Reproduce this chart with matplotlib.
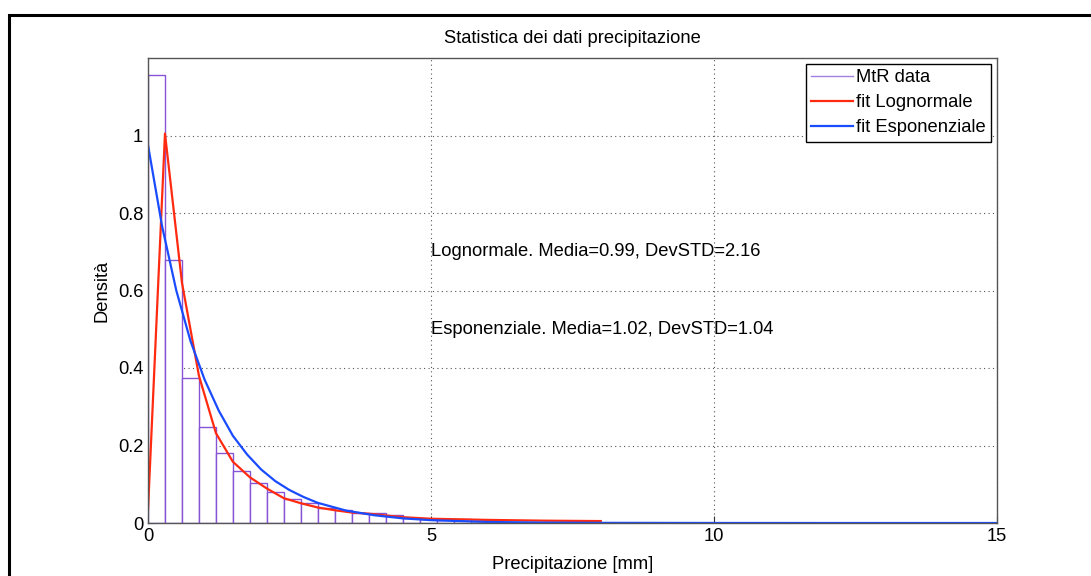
import matplotlib.pyplot as plt
import matplotlib.patches as patches
from matplotlib.lines import Line2D
import numpy as np

plt.rcParams['font.family'] = ['Liberation Sans', 'DejaVu Sans']

# histogram (bin width 0.3 mm), density values
bin_edges = np.arange(0, 6.01, 0.3)
hist_density = [1.155, 0.68, 0.373, 0.248, 0.180, 0.133, 0.102, 0.081, 0.061, 0.051,
                0.040, 0.033, 0.027, 0.025, 0.021, 0.014, 0.010, 0.008, 0.010, 0.006]

# fitted lognormal curve (sampled at the bin edges)
logn_x = [0.0, 0.3, 0.6, 0.9, 1.2, 1.5, 1.8, 2.1, 2.4, 2.7, 3.0, 3.3, 3.6, 3.9,
          4.5, 5.0, 6.0, 7.0, 8.0]
logn_y = [0.034, 1.005, 0.62, 0.38, 0.232, 0.158, 0.118, 0.089, 0.064, 0.051,
          0.040, 0.033, 0.027, 0.024, 0.015, 0.011, 0.008, 0.006, 0.005]

# fitted exponential curve
expo_x = [0.0, 0.25, 0.5, 0.75, 1.0, 1.25, 1.5, 1.75, 2.0, 2.25, 2.5, 2.75, 3.0,
          3.5, 4.0, 4.5, 5.0, 6.0, 7.0, 8.0, 10.0, 12.0, 15.0]
expo_y = [0.975, 0.765, 0.600, 0.470, 0.370, 0.290, 0.225, 0.177, 0.138, 0.108,
          0.085, 0.067, 0.052, 0.032, 0.020, 0.012, 0.0073, 0.0027, 0.0010,
          0.0004, 0.0001, 0.0, 0.0]

stats_text = ['Lognormale. Media=0.99, DevSTD=2.16',
              'Esponenziale. Media=1.02, DevSTD=1.04']

fs = 13.2
c_hist = '#8654d4'
c_logn = '#ff2a10'
c_expo = '#1a4cff'

fig = plt.figure(figsize=(10.91, 5.76), dpi=100)
ax = fig.add_axes([148 / 1091, 53 / 576, 849 / 1091, 465 / 576])

widths = np.diff(bin_edges)
ax.bar(bin_edges[:-1], hist_density, width=widths, align='edge',
       facecolor='white', edgecolor=c_hist, linewidth=1.0)
ax.plot(logn_x, logn_y, color=c_logn, lw=1.6)
ax.plot(expo_x, expo_y, color=c_expo, lw=1.6)

ax.text(5, 0.70, stats_text[0], fontsize=fs, va='center', ha='left')
ax.text(5, 0.50, stats_text[1], fontsize=fs, va='center', ha='left')

ax.set_xlim(0, 15)
ax.set_ylim(0, 1.2)
ax.set_xticks([0, 5, 10, 15])
ax.set_yticks([0, 0.2, 0.4, 0.6, 0.8, 1.0])
ax.set_yticklabels(['0', '0.2', '0.4', '0.6', '0.8', '1'])
ax.tick_params(direction='in', labelsize=fs, length=5, width=0.8, colors='#333333',
               labelcolor='black')
ax.grid(True, linestyle=(0, (1, 3)), color='#555555', linewidth=0.8)
ax.set_axisbelow(True)
for sp in ax.spines.values():
    sp.set_color('#555555')
    sp.set_linewidth(1.0)

ax.set_title('Statistica dei dati precipitazione', fontsize=fs, pad=11)
ax.set_xlabel('Precipitazione [mm]', fontsize=fs, labelpad=8)
ax.set_ylabel('Densità', fontsize=fs, labelpad=5)

handles = [Line2D([], [], color='#a080e0', lw=1.0),
           Line2D([], [], color=c_logn, lw=1.6),
           Line2D([], [], color=c_expo, lw=1.6)]
labels = ['MtR data', 'fit Lognormale', 'fit Esponenziale']
leg = ax.legend(handles, labels, loc='upper right', fontsize=fs, fancybox=False,
                framealpha=1, edgecolor='black', borderaxespad=0.3,
                handlelength=2.3, handletextpad=0.15, labelspacing=0.45,
                borderpad=0.3)
leg.get_frame().set_linewidth(1.0)

# outer black frame of the exported figure
fig.patches.append(patches.Rectangle((8.5 / 1091, -0.1), 1.2, (576 - 14.5) / 576 + 0.1,
                                     transform=fig.transFigure, fill=False,
                                     edgecolor='black', linewidth=2.2))

fig.savefig('out.png', dpi=100)
